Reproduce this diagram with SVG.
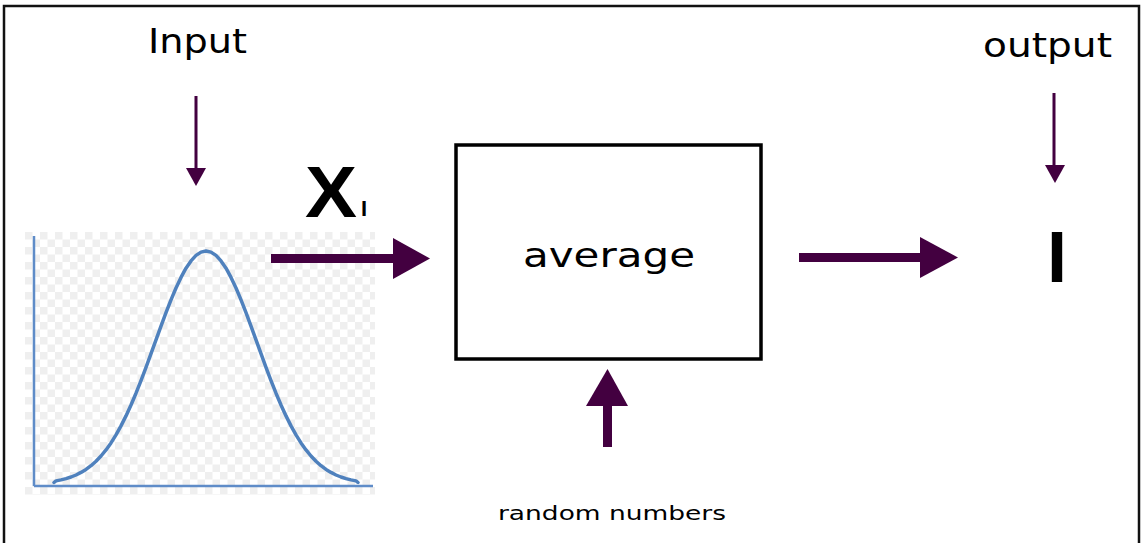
<svg xmlns="http://www.w3.org/2000/svg" width="1142" height="543" viewBox="0 0 1142 543">
  <style>
    .lbl { font-family: "DejaVu Sans", "Liberation Sans", sans-serif; fill: #000; }
    .arr { fill: #430040; }
    .axis { stroke: #5f8cc8; stroke-width: 2.5; fill: none; }
    .curve { stroke: #4f81bd; stroke-width: 3.5; fill: none; stroke-linejoin: round; stroke-linecap: round; }
  </style>
  <defs>
    <pattern id="checker" x="25" y="232" width="15" height="15" patternUnits="userSpaceOnUse">
      <rect width="15" height="15" fill="#ffffff"/>
      <rect width="7.5" height="7.5" fill="#efefef"/>
      <rect x="7.5" y="7.5" width="7.5" height="7.5" fill="#efefef"/>
    </pattern>
  </defs>
  <rect width="1142" height="543" fill="#ffffff"/>
  <path d="M4,560 L4,6 L1139,6 L1139,560" fill="none" stroke="#111" stroke-width="2.5"/>

  <g id="distribution">
    <rect x="25" y="232" width="350" height="263" fill="url(#checker)"/>
    <line class="axis" x1="34" y1="236" x2="34" y2="486"/>
    <line class="axis" x1="34" y1="486" x2="373" y2="486"/>
    <polyline class="curve" points="54,482.5 56,480.9 61,479.9 66,478.6 71,477 76,475 81,472.4 86,469.4 91,465.7 96,461.2 101,456 106,449.9 111,442.9 116,434.9 121,425.9 126,415.9 131,405 136,393.2 141,380.6 146,367.4 151,353.7 156,339.9 161,326.1 166,312.7 171,299.9 176,288 181,277.4 186,268.2 191,260.9 196,255.4 201,252.1 206,251 211,252.1 216,255.4 221,260.9 226,268.2 231,277.4 236,288 241,299.9 246,312.7 251,326.1 256,339.9 261,353.7 266,367.4 271,380.6 276,393.2 281,405 286,415.9 291,425.9 296,434.9 301,442.9 306,449.9 311,456 316,461.2 321,465.7 326,469.4 331,472.4 336,475 341,477 346,478.6 351,479.9 356,480.9 358,482.5"/>
  </g>

  <g id="input-label">
    <text class="lbl" x="148" y="53" font-size="34" textLength="99" lengthAdjust="spacingAndGlyphs">Input</text>
  </g>
  <g id="output-label">
    <text class="lbl" x="983" y="57" font-size="34" textLength="129" lengthAdjust="spacingAndGlyphs">output</text>
  </g>
  <g id="xi-label">
    <text x="305" y="217" font-family="Liberation Sans, Arial, sans-serif" font-weight="bold" font-size="72" textLength="52" lengthAdjust="spacingAndGlyphs">X</text>
    <text x="361" y="216" font-family="Liberation Sans, Arial, sans-serif" font-weight="bold" font-size="22">I</text>
  </g>

  <g id="average">
    <rect x="456" y="145" width="305" height="214" fill="#fff" stroke="#000" stroke-width="3.5"/>
    <text class="lbl" x="523" y="267" font-size="34" textLength="172" lengthAdjust="spacingAndGlyphs">average</text>
  </g>

  <g id="result">
    <text x="1057" y="282" text-anchor="middle" font-family="Liberation Sans, Arial, sans-serif" font-weight="bold" font-size="72">I</text>
  </g>

  <g id="random-label">
    <text class="lbl" x="498" y="520" font-size="20" textLength="228" lengthAdjust="spacingAndGlyphs">random numbers</text>
  </g>

  <g id="connectors">
    <rect class="arr" x="194.5" y="96" width="3" height="73"/>
    <polygon class="arr" points="186,168 206,168 196,186"/>
    <rect class="arr" x="1052.5" y="93" width="3" height="73"/>
    <polygon class="arr" points="1045,165 1065,165 1055,183"/>
    <rect class="arr" x="271" y="254" width="124" height="9"/>
    <polygon class="arr" points="393,238 430,258.5 393,279"/>
    <rect class="arr" x="799" y="253" width="123" height="9"/>
    <polygon class="arr" points="920,237 958,257.5 920,278"/>
    <rect class="arr" x="603" y="404" width="9" height="43"/>
    <polygon class="arr" points="586,406 607.5,369 628,406"/>
  </g>
</svg>
